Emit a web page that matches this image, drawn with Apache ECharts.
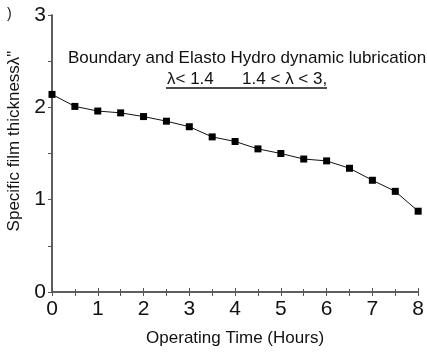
<!DOCTYPE html>
<html>
<head>
<meta charset="utf-8">
<script src="https://cdn.jsdelivr.net/npm/echarts@6/dist/echarts.min.js"></script>
<style>
  html, body { margin: 0; padding: 0; background: #fff; }
  #chart { width: 427px; height: 352px; }
</style>
</head>
<body>
<div id="chart"></div>
<script>
// operating time (hours) and specific film thickness
var hours = [0, 0.5, 1, 1.5, 2, 2.5, 3, 3.5, 4, 4.5, 5, 5.5, 6, 6.5, 7, 7.5, 8]
var lambda = [2.14, 2.01, 1.96, 1.94, 1.90, 1.85, 1.79, 1.68, 1.63, 1.55, 1.50, 1.44, 1.42, 1.34, 1.21, 1.09, 0.875]
var xTicks = [0, 1, 2, 3, 4, 5, 6, 7, 8]
var yTicks = [0, 1, 2, 3]

var font = 'Liberation Sans, Arial, sans-serif'
var axisColor = '#555'

var chart = echarts.init(document.getElementById('chart'))
chart.setOption({
  animation: false,
  grid: { left: 52, right: 3, top: 15, bottom: 57 },
  xAxis: [{
    type: 'value',
    min: xTicks[0],
    max: xTicks[xTicks.length - 1],
    interval: 1,
    name: 'Operating Time (Hours)',
    nameLocation: 'middle',
    nameGap: 38,
    nameTextStyle: { fontFamily: font, fontSize: 17, color: '#111' },
    axisLine: { lineStyle: { color: axisColor, width: 1.5 } },
    axisTick: { inside: true, length: 4, lineStyle: { color: axisColor } },
    minorTick: { show: true, splitNumber: 2, length: 3, lineStyle: { color: axisColor } },
    axisLabel: { fontFamily: font, fontSize: 21, color: '#111', margin: 7, showMaxLabel: true },
    splitLine: { show: false }
  }, {
    type: 'value',
    position: 'top',
    min: xTicks[0],
    max: xTicks[xTicks.length - 1],
    interval: 0.5,
    axisLine: { lineStyle: { color: axisColor, width: 1.5 } },
    axisTick: { inside: true, length: 4, lineStyle: { color: axisColor } },
    axisLabel: { show: false },
    splitLine: { show: false }
  }],
  yAxis: [{
    type: 'value',
    min: yTicks[0],
    max: yTicks[yTicks.length - 1],
    interval: 1,
    axisLine: { lineStyle: { color: axisColor, width: 1.5 } },
    axisTick: { length: 4, lineStyle: { color: axisColor } },
    minorTick: { show: true, splitNumber: 2, length: 3, lineStyle: { color: axisColor } },
    axisLabel: { fontFamily: font, fontSize: 21, color: '#111', margin: 6 },
    splitLine: { show: false }
  }, {
    type: 'value',
    position: 'right',
    min: yTicks[0],
    max: yTicks[yTicks.length - 1],
    interval: 0.5,
    axisLine: { lineStyle: { color: axisColor, width: 1.5 } },
    axisTick: { inside: true, length: 4, lineStyle: { color: axisColor } },
    axisLabel: { show: false },
    splitLine: { show: false }
  }],
  graphic: [
    {
      // y axis title, sits a bit above the axis middle like the original
      type: 'text',
      x: 14,
      y: 141,
      rotation: Math.PI / 2,
      style: {
        text: 'Specific film thickness\u03bb"',
        font: '17px ' + font,
        fill: '#111',
        align: 'center',
        verticalAlign: 'middle'
      }
    },
    {
      type: 'text',
      left: 68,
      top: 50,
      style: { text: 'Boundary and Elasto Hydro dynamic lubrication', font: '17px ' + font, fill: '#111' }
    },
    {
      type: 'text',
      left: 167,
      top: 71,
      style: { text: '\u03bb< 1.4      1.4 < \u03bb < 3,', font: '17px ' + font, fill: '#111' }
    },
    {
      type: 'line',
      shape: { x1: 166, y1: 88, x2: 327, y2: 88 },
      style: { stroke: '#111', lineWidth: 1.5 }
    },
    {
      type: 'text',
      left: 7,
      top: 7,
      style: { text: ')', font: '14px ' + font, fill: '#111' }
    }
  ],
  series: [{
    type: 'line',
    data: hours.map(function (h, i) { return [h, lambda[i]] }),
    symbol: 'rect',
    symbolSize: 7,
    clip: false,
    lineStyle: { color: '#111', width: 1 },
    itemStyle: { color: '#000' }
  }]
})
</script>
</body>
</html>
